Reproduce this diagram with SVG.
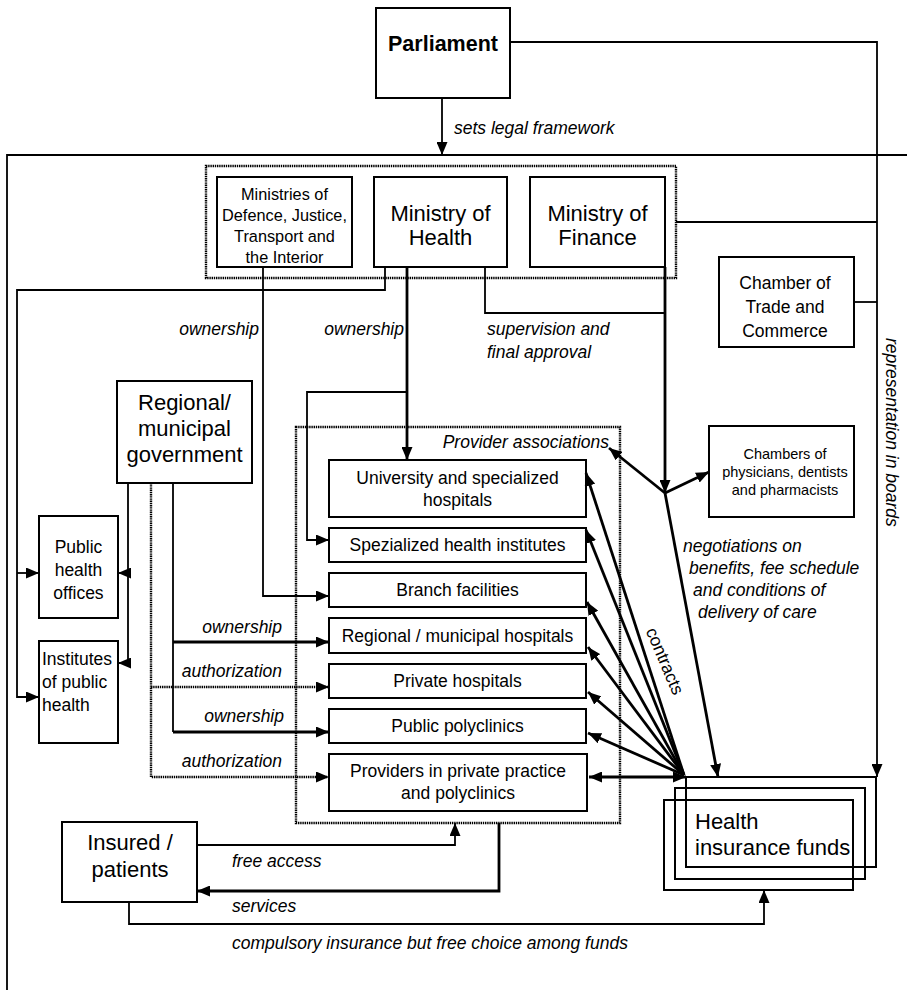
<svg xmlns="http://www.w3.org/2000/svg" width="907" height="990" viewBox="0 0 907 990">
<style>
text{font-family:"Liberation Sans",Arial,sans-serif;fill:#000}
.box{fill:#fff;stroke:#000;stroke-width:2}
.open{fill:none;stroke:#000;stroke-width:2}
.dot{fill:none;stroke:#000;stroke-width:2.4;stroke-dasharray:1.4 0.8}
.ln{fill:none;stroke:#000;stroke-width:1.8}
.th{fill:none;stroke:#000;stroke-width:2.8}
.dl{fill:none;stroke:#000;stroke-width:2.4;stroke-dasharray:1.4 0.8}
.lbl{font-style:italic;font-size:17.5px}
.t16{font-size:16.3px}
.t18{font-size:17.5px}
.t22{font-size:22px}
.t14{font-size:14.5px}
.c{text-anchor:middle}
</style>
<defs>
<marker id="a" markerUnits="userSpaceOnUse" markerWidth="13" markerHeight="11" refX="13" refY="5.5" orient="auto-start-reverse"><path d="M0,0 L13,5.5 L0,11 z" fill="#000"/></marker>
</defs>

<g id="frame"><path class="ln" d="M907,155 H7 V990"/></g>

<g id="parliament"><rect class="box" x="376" y="8" width="134" height="90"/><text x="443" y="51" class="c" style="font-weight:bold;font-size:21.5px">Parliament</text></g>

<g id="ministries-group"><rect class="dot" x="206" y="166" width="470" height="112"/></g>
<g id="ministries-other"><rect class="box" x="217" y="177" width="135" height="90"/>
<text class="t16 c" x="284.5" y="200">Ministries of</text><text class="t16 c" x="284.5" y="221">Defence, Justice,</text><text class="t16 c" x="284.5" y="242">Transport and</text><text class="t16 c" x="284.5" y="263">the Interior</text></g>
<g id="ministry-health"><rect class="box" x="374" y="177" width="133" height="90"/><text class="t22 c" x="440.5" y="221">Ministry of</text><text class="t22 c" x="440.5" y="245">Health</text></g>
<g id="ministry-finance"><rect class="box" x="530" y="177" width="135" height="90"/><text class="t22 c" x="597.5" y="221">Ministry of</text><text class="t22 c" x="597.5" y="245">Finance</text></g>

<g id="chamber-trade"><rect class="box" x="719" y="257" width="135" height="90"/><text class="t18 c" x="785" y="289">Chamber of</text><text class="t18 c" x="785" y="313">Trade and</text><text class="t18 c" x="785" y="337">Commerce</text></g>

<g id="regional"><rect class="box" x="117" y="381" width="135" height="102"/><text class="t22 c" x="184.5" y="410">Regional/</text><text class="t22 c" x="184.5" y="436">municipal</text><text class="t22 c" x="184.5" y="462">government</text></g>

<g id="public-health-offices"><rect class="box" x="39" y="516" width="79" height="102"/><text class="t18 c" x="78.5" y="553">Public</text><text class="t18 c" x="78.5" y="576">health</text><text class="t18 c" x="78.5" y="599">offices</text></g>
<g id="institutes"><rect class="box" x="39" y="641" width="79" height="102"/><text class="t18" x="42" y="665">Institutes</text><text class="t18" x="42" y="688">of public</text><text class="t18" x="42" y="711">health</text></g>

<g id="provider-associations"><rect class="dot" x="296" y="427" width="324" height="396"/><text class="lbl" x="609" y="448" text-anchor="end">Provider associations</text></g>

<g id="university"><rect class="box" x="329" y="460" width="257" height="57"/><text class="t18 c" x="457.5" y="484">University and specialized</text><text class="t18 c" x="457.5" y="506">hospitals</text></g>
<g id="spezialized"><rect class="box" x="329" y="528" width="257" height="34"/><text class="t18 c" x="457.5" y="551">Spezialized health institutes</text></g>
<g id="branch"><rect class="box" x="329" y="573" width="257" height="34"/><text class="t18 c" x="457.5" y="596">Branch facilities</text></g>
<g id="regional-hospitals"><rect class="box" x="329" y="618" width="257" height="35"/><text class="t18 c" x="457.5" y="642">Regional / municipal hospitals</text></g>
<g id="private-hospitals"><rect class="box" x="329" y="664" width="257" height="34"/><text class="t18 c" x="457.5" y="687">Private hospitals</text></g>
<g id="public-polyclinics"><rect class="box" x="329" y="709" width="257" height="34"/><text class="t18 c" x="457.5" y="732">Public polyclinics</text></g>
<g id="private-practice"><rect class="box" x="329" y="754" width="258" height="57"/><text class="t18 c" x="458" y="777">Providers in private practice</text><text class="t18 c" x="458" y="799">and polyclinics</text></g>

<g id="chambers-physicians"><rect class="box" x="709" y="426" width="145" height="91"/><text class="t14 c" x="785" y="459">Chambers of</text><text class="t14 c" x="785" y="477">physicians, dentists</text><text class="t14 c" x="785" y="495">and pharmacists</text></g>

<g id="insured"><rect class="box" x="62" y="822" width="135" height="80"/><text class="t22 c" x="130" y="850">Insured /</text><text class="t22 c" x="130" y="877">patients</text></g>

<g id="health-insurance-funds"><rect class="open" x="686" y="777" width="190" height="90"/><rect class="open" x="675" y="788" width="190" height="91"/><rect class="open" x="664" y="800" width="189" height="90"/><text class="t22" x="695" y="829">Health</text><text class="t22" x="695" y="855">insurance funds</text></g>

<g id="connectors">
<path class="ln" d="M442,98 V155" marker-end="url(#a)"/>
<path class="ln" d="M510,42 H877 V777" marker-end="url(#a)"/>
<path class="ln" d="M676,222 H877"/>
<path class="ln" d="M854,302 H877"/>
<path class="ln" d="M385,267 V290 H17 V697 H39" marker-end="url(#a)"/>
<path class="ln" d="M17,573 H39" marker-end="url(#a)"/>
<path class="ln" d="M263,267 V596 H329" marker-end="url(#a)"/>
<path class="th" d="M407,267 V460" marker-end="url(#a)"/>
<path class="ln" d="M407,392 H307 V540 H329" marker-end="url(#a)"/>
<path class="ln" d="M485,267 V313 H665"/>
<path class="th" d="M665,267 V493" marker-end="url(#a)"/>
<path class="th" d="M665,493 L609,448" marker-end="url(#a)"/>
<path class="th" d="M665,493 L709,472" marker-end="url(#a)"/>
<path class="th" d="M665,493 L718,777" marker-end="url(#a)"/>
<path class="th" d="M684,775 L586,473" marker-end="url(#a)"/>
<path class="th" d="M684,775 L586,530" marker-end="url(#a)"/>
<path class="th" d="M684,775 L587,602" marker-end="url(#a)"/>
<path class="th" d="M684,775 L588,647" marker-end="url(#a)"/>
<path class="th" d="M684,775 L588,692" marker-end="url(#a)"/>
<path class="th" d="M684,775 L588,733" marker-end="url(#a)"/>
<path class="th" d="M589,777 H686" marker-start="url(#a)" marker-end="url(#a)"/>
<path class="ln" d="M128,483 V663 H118" marker-end="url(#a)"/>
<path class="ln" d="M128,573 H118" marker-end="url(#a)"/>
<path class="dl" d="M151,483 V777 H329" marker-end="url(#a)"/>
<path class="dl" d="M151,687 H329" marker-end="url(#a)"/>
<path class="ln" d="M173,483 V732"/>
<path class="th" d="M173,732 H329" marker-end="url(#a)"/>
<path class="th" d="M173,642 H329" marker-end="url(#a)"/>
<path class="ln" d="M197,845 H455 V823" marker-end="url(#a)"/>
<path class="th" d="M499,823 V891 H197" marker-end="url(#a)"/>
<path class="ln" d="M129,902 V924 H764 V890" marker-end="url(#a)"/>
</g>

<g id="labels">
<text class="lbl" x="454" y="134">sets legal framework</text>
<text class="lbl" x="259" y="335" text-anchor="end">ownership</text>
<text class="lbl" x="404" y="335" text-anchor="end">ownership</text>
<text class="lbl" x="487" y="335">supervision and</text>
<text class="lbl" x="487" y="358">final approval</text>
<text class="lbl" x="683" y="552">negotiations on</text>
<text class="lbl" x="689" y="574">benefits, fee schedule</text>
<text class="lbl" x="693" y="596">and conditions of</text>
<text class="lbl" x="698" y="618">delivery of care</text>
<text class="lbl" x="282" y="633" text-anchor="end">ownership</text>
<text class="lbl" x="282" y="677" text-anchor="end">authorization</text>
<text class="lbl" x="284" y="722" text-anchor="end">ownership</text>
<text class="lbl" x="282" y="767" text-anchor="end">authorization</text>
<text class="lbl" x="232" y="867">free access</text>
<text class="lbl" x="232" y="912">services</text>
<text class="lbl" x="232" y="949">compulsory insurance but free choice among funds</text>
<text class="t18 c" transform="translate(665,661) rotate(67)" y="6">contracts</text>
<text class="lbl" transform="translate(886,338) rotate(90)">representation in boards</text>
</g>
</svg>
